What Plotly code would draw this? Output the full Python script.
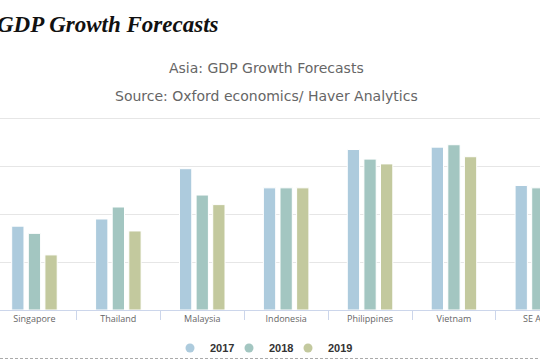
import plotly.graph_objects as go

categories = ["Singapore", "Thailand", "Malaysia", "Indonesia", "Philippines", "Vietnam", "SE Asia"]
years = ["2017", "2018", "2019"]
gdp_2017 = [3.5, 3.8, 5.9, 5.1, 6.7, 6.8, 5.2]
gdp_2018 = [3.2, 4.3, 4.8, 5.1, 6.3, 6.9, 5.1]
gdp_2019 = [2.3, 3.3, 4.4, 5.1, 6.1, 6.4, 4.9]
series = [gdp_2017, gdp_2018, gdp_2019]
colors = ["#adcbdd", "#a3c6c1", "#c3c99e"]

W, H = 540, 360
TOP, BOT = 116, 310
Y_MAX = 8.1


def py(p):
    # convert a pixel row to plot-area (paper) y
    return (BOT - p) / (BOT - TOP)


legend_ids = ["legend", "legend2", "legend3"]
legend_sym_x = [190, 249, 308]

fig = go.Figure()
for name, vals, col in zip(years, series, colors):
    fig.add_trace(go.Bar(
        x=categories, y=vals, name=name, showlegend=False,
        marker=dict(color=col, line=dict(color="#ffffff", width=1)),
    ))
for name, col, lid in zip(years, colors, legend_ids):
    fig.add_trace(go.Scatter(
        x=[None], y=[None], mode="markers", name=name, legend=lid,
        marker=dict(color=col, size=9, symbol="circle"),
    ))

legend_layouts = {}
for lid, sx in zip(legend_ids, legend_sym_x):
    legend_layouts[lid] = dict(
        orientation="h", x=(sx - 20) / W, xanchor="left", y=py(348), yanchor="middle",
        font=dict(family="Liberation Sans", size=11, color="#333333", weight="bold"),
        itemwidth=30, bgcolor="rgba(0,0,0,0)", borderwidth=0,
    )

fig.update_layout(
    width=W, height=H,
    margin=dict(l=0, r=0, t=TOP, b=H - BOT, autoexpand=False),
    paper_bgcolor="#ffffff", plot_bgcolor="#ffffff",
    barmode="group", bargap=0.406, bargroupgap=0.26,
    showlegend=True,
    xaxis=dict(
        type="category", range=[-0.4106, 6.0256], automargin=False,
        tickson="boundaries", ticks="outside", ticklen=9, tickcolor="#ccd6eb",
        showline=True, linecolor="#ccd6eb", linewidth=1, showgrid=False,
        tickfont=dict(family="Open Sans", size=9, color="#666666"),
        fixedrange=True,
    ),
    yaxis=dict(
        range=[0, Y_MAX], dtick=2, showticklabels=False, gridcolor="#e6e6e6",
        zeroline=False, fixedrange=True, automargin=False,
    ),
    annotations=[
        dict(text="<b><i>GDP Growth Forecasts</i></b>", xref="paper", yref="paper",
             x=-5 / W, y=py(24.5), xanchor="left", yanchor="middle", showarrow=False,
             font=dict(family="Liberation Serif", size=23, color="#111111")),
        dict(text="Asia: GDP Growth Forecasts", xref="paper", yref="paper",
             x=266 / W, y=py(68), xanchor="center", yanchor="middle", showarrow=False,
             font=dict(family="DejaVu Sans", size=14, color="#666666")),
        dict(text="Source: Oxford economics/ Haver Analytics", xref="paper", yref="paper",
             x=266 / W, y=py(96.5), xanchor="center", yanchor="middle", showarrow=False,
             font=dict(family="DejaVu Sans", size=14, color="#666666")),
    ],
    shapes=[
        dict(type="line", xref="paper", yref="paper", x0=0, x1=1,
             y0=py(358.5), y1=py(358.5),
             line=dict(color="#aaaaaa", width=1, dash="3px,2px")),
    ],
    **legend_layouts,
)

fig.write_html("out.html", config={"displayModeBar": False},
               post_script="document.body.style.margin='0px';")
